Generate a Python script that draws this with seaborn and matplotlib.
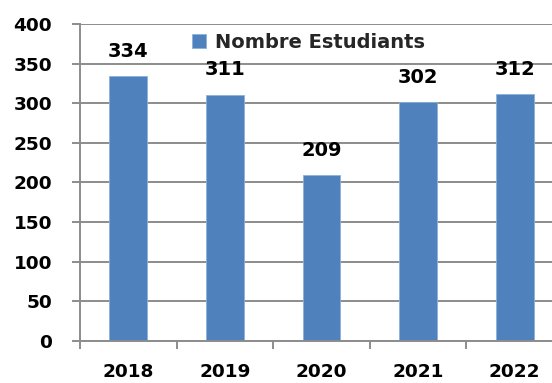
import matplotlib
matplotlib.use("Agg")
import matplotlib.pyplot as plt
import seaborn as sns
import pandas as pd
from matplotlib.ticker import FixedLocator, NullFormatter

years = ["2018", "2019", "2020", "2021", "2022"]
students = [334, 311, 209, 302, 312]
series_name = "Nombre Estudiants"
y_ticks = [0, 50, 100, 150, 200, 250, 300, 350, 400]

df = pd.DataFrame({"Any": years, "Estudiants": students})

sns.set_theme(style="white")
plt.rcParams["font.family"] = ["DejaVu Sans"]

BAR = "#4F81BD"
GRID = "#8C8C8C"

fig = plt.figure(figsize=(5.52, 3.83), dpi=100)
ax = fig.add_axes([0.1449, 0.1104, 0.875, 0.8262])

sns.barplot(data=df, x="Any", y="Estudiants", color=BAR, saturation=1,
            width=0.39, edgecolor="#8DB0DA", linewidth=0.6, ax=ax,
            label=series_name)

ax.set_ylim(0, 400)
ax.set_xlim(-0.5, len(years) - 0.5)
ax.set_yticks(y_ticks)
ax.set_yticklabels([str(v) for v in y_ticks], fontsize=13.3, fontweight="bold", color="black")
ax.yaxis.grid(True, color=GRID, linewidth=1.4)
ax.set_axisbelow(True)

# category labels centred, tick marks between categories
ax.set_xticks(range(len(years)))
ax.set_xticklabels(years, fontsize=13.3, fontweight="bold", color="black")
ax.tick_params(axis="x", which="major", length=0, pad=16)
ax.xaxis.set_minor_locator(FixedLocator([i - 0.5 for i in range(len(years) + 1)]))
ax.xaxis.set_minor_formatter(NullFormatter())
ax.tick_params(axis="x", which="minor", length=6, width=1.4, color=GRID, direction="out", bottom=True)
ax.tick_params(axis="y", length=6, width=1.4, color=GRID, direction="out", left=True, pad=14)

ax.set_xlabel("")
ax.set_ylabel("")
for side in ["top", "right"]:
    ax.spines[side].set_visible(False)
for side in ["left", "bottom"]:
    ax.spines[side].set_color(GRID)
    ax.spines[side].set_linewidth(1.4)
ax.spines["bottom"].set_zorder(3)

for container in ax.containers:
    ax.bar_label(container, labels=[str(v) for v in students], padding=11,
                 fontsize=14, fontweight="bold", color="black")

ax.legend(loc="center left", bbox_to_anchor=(0.348, 0.890), bbox_transform=fig.transFigure,
          frameon=False, borderpad=0, borderaxespad=0, handlelength=0.7, handleheight=0.7,
          handletextpad=0.5, prop={"weight": "bold", "size": 14})

fig.savefig("out.png", dpi=100)
